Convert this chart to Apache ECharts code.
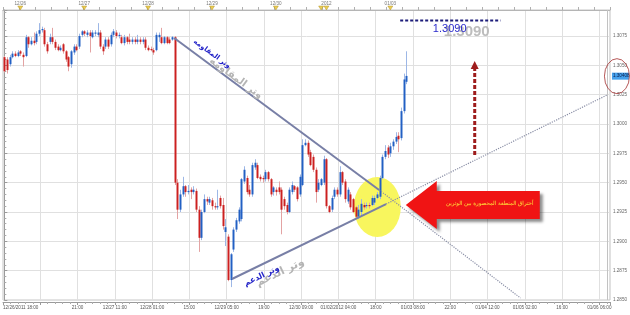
<!DOCTYPE html>
<html><head><meta charset="utf-8">
<script src="https://cdn.jsdelivr.net/npm/echarts@6/dist/echarts.min.js"></script>
<style>html,body{margin:0;padding:0;background:#fff}#c{width:630px;height:315px}</style>
</head><body><div id="c"></div>
<script>
// ---------- DATA (hourly EUR/USD candles) ----------
const opens = [1.3057,1.3055,1.3051,1.3057,1.3060,1.3058,1.3062,1.3059,1.3058,1.3074,
 1.3068,1.3071,1.3070,1.3077,1.3080,1.3080,1.3068,1.3070,1.3074,1.3070,
 1.3066,1.3063,1.3068,1.3062,1.3057,1.3051,1.3061,1.3066,1.3066,1.3076,
 1.3079,1.3076,1.3078,1.3074,1.3077,1.3076,1.3078,1.3066,1.3066,1.3072,
 1.3068,1.3076,1.3078,1.3075,1.3074,1.3069,1.3074,1.3072,1.3070,1.3072,
 1.3070,1.3072,1.3070,1.3072,1.3065,1.3064,1.3063,1.3063,1.3074,1.3074,
 1.3069,1.3074,1.3072,1.3072,1.3074,1.2950,1.2927,1.2940,1.2947,1.2942,
 1.2944,1.2942,1.2943,1.2927,1.2903,1.2925,1.2936,1.2933,1.2935,1.2930,
 1.2929,1.2937,1.2931,1.2908,1.2904,1.2867,1.2893,1.2910,1.2917,1.2919,
 1.2951,1.2954,1.2944,1.2940,1.2963,1.2965,1.2955,1.2954,1.2953,1.2959,
 1.2953,1.2942,1.2944,1.2946,1.2944,1.2936,1.2931,1.2925,1.2942,1.2947,
 1.2946,1.2940,1.2948,1.2982,1.2984,1.2976,1.2972,1.2961,1.2944,1.2948,
 1.2950,1.2970,1.2930,1.2927,1.2938,1.2944,1.2940,1.2959,1.2951,1.2934,
 1.2940,1.2936,1.2929,1.2921,1.2925,1.2931,1.2930,1.2931,1.2931,1.2933,
 1.2937,1.2938,1.2954,1.2972,1.2980,1.2975,1.2981,1.2985,1.2990,1.2988,
 1.3011,1.3036];
const closes = [1.3045,1.3046,1.3057,1.3060,1.3058,1.3061,1.3060,1.3057,1.3074,1.3068,
 1.3071,1.3069,1.3077,1.3080,1.3081,1.3068,1.3062,1.3074,1.3070,1.3065,
 1.3063,1.3065,1.3062,1.3055,1.3049,1.3062,1.3066,1.3063,1.3075,1.3079,
 1.3077,1.3078,1.3075,1.3078,1.3078,1.3078,1.3066,1.3062,1.3072,1.3066,
 1.3076,1.3079,1.3075,1.3076,1.3069,1.3074,1.3070,1.3070,1.3072,1.3070,
 1.3072,1.3070,1.3072,1.3065,1.3063,1.3063,1.3061,1.3076,1.3076,1.3069,
 1.3074,1.3069,1.3069,1.3074,1.2950,1.2927,1.2940,1.2947,1.2942,1.2943,
 1.2942,1.2944,1.2927,1.2903,1.2925,1.2936,1.2934,1.2936,1.2930,1.2929,
 1.2930,1.2930,1.2913,1.2912,1.2867,1.2889,1.2910,1.2918,1.2927,1.2953,
 1.2961,1.2942,1.2940,1.2965,1.2967,1.2954,1.2953,1.2953,1.2959,1.2953,
 1.2940,1.2946,1.2942,1.2942,1.2927,1.2930,1.2925,1.2944,1.2948,1.2944,
 1.2936,1.2955,1.2982,1.2984,1.2974,1.2965,1.2961,1.2942,1.2950,1.2953,
 1.2970,1.2930,1.2925,1.2937,1.2944,1.2940,1.2959,1.2950,1.2936,1.2944,
 1.2929,1.2925,1.2921,1.2927,1.2932,1.2929,1.2931,1.2930,1.2937,1.2937,
 1.2940,1.2954,1.2972,1.2977,1.2974,1.2981,1.2985,1.2989,1.2987,1.3011,
 1.3038,1.3041];
const lows = [1.3044,1.3043,1.3049,1.3056,1.3057,1.3057,1.3058,1.3049,1.3057,1.3065,
 1.3067,1.3067,1.3068,1.3075,1.3078,1.3066,1.3060,1.3068,1.3068,1.3063,
 1.3062,1.3062,1.3060,1.3053,1.3045,1.3048,1.3059,1.3062,1.3064,1.3074,
 1.3075,1.3074,1.3061,1.3073,1.3075,1.3074,1.3064,1.3059,1.3064,1.3064,
 1.3066,1.3074,1.3073,1.3073,1.3068,1.3067,1.3068,1.3068,1.3068,1.3068,
 1.3068,1.3068,1.3068,1.3063,1.3062,1.3062,1.3059,1.3062,1.3070,1.3068,
 1.3068,1.3068,1.3068,1.3071,1.2948,1.2919,1.2925,1.2938,1.2938,1.2940,
 1.2936,1.2940,1.2925,1.2891,1.2901,1.2924,1.2931,1.2931,1.2927,1.2927,
 1.2927,1.2928,1.2910,1.2896,1.2866,1.2861,1.2891,1.2908,1.2915,1.2917,
 1.2949,1.2940,1.2938,1.2938,1.2961,1.2953,1.2951,1.2950,1.2951,1.2951,
 1.2938,1.2939,1.2939,1.2940,1.2906,1.2927,1.2923,1.2924,1.2940,1.2942,
 1.2934,1.2938,1.2947,1.2981,1.2972,1.2964,1.2959,1.2933,1.2942,1.2947,
 1.2948,1.2928,1.2924,1.2925,1.2936,1.2938,1.2938,1.2948,1.2933,1.2932,
 1.2927,1.2924,1.2919,1.2919,1.2921,1.2927,1.2928,1.2928,1.2930,1.2931,
 1.2936,1.2936,1.2953,1.2970,1.2971,1.2972,1.2978,1.2983,1.2976,1.2986,
 1.3009,1.3034];
const highs = [1.3058,1.3057,1.3059,1.3062,1.3062,1.3063,1.3063,1.3061,1.3076,1.3075,
 1.3074,1.3078,1.3079,1.3086,1.3083,1.3082,1.3070,1.3077,1.3082,1.3072,
 1.3068,1.3067,1.3069,1.3063,1.3058,1.3063,1.3068,1.3068,1.3077,1.3080,
 1.3080,1.3080,1.3080,1.3080,1.3080,1.3086,1.3080,1.3068,1.3074,1.3074,
 1.3078,1.3081,1.3080,1.3078,1.3076,1.3076,1.3075,1.3077,1.3074,1.3074,
 1.3076,1.3074,1.3074,1.3074,1.3067,1.3066,1.3065,1.3078,1.3078,1.3082,
 1.3075,1.3075,1.3074,1.3075,1.3075,1.2953,1.2944,1.2955,1.2948,1.2948,
 1.2946,1.2947,1.2945,1.2930,1.2927,1.2940,1.2938,1.2938,1.2937,1.2933,
 1.2944,1.2939,1.2937,1.2919,1.2906,1.2890,1.2912,1.2920,1.2929,1.2954,
 1.2964,1.2956,1.2948,1.2967,1.2970,1.2967,1.2957,1.2956,1.2961,1.2960,
 1.2954,1.2947,1.2946,1.2951,1.2946,1.2938,1.2933,1.2946,1.2951,1.2948,
 1.2947,1.2957,1.2987,1.2987,1.2986,1.2978,1.2974,1.2963,1.2953,1.2954,
 1.2973,1.2971,1.2931,1.2939,1.2946,1.2946,1.2964,1.2960,1.2953,1.2946,
 1.2942,1.2937,1.2930,1.2931,1.2936,1.2933,1.2933,1.2933,1.2939,1.2939,
 1.2942,1.2956,1.2974,1.2982,1.2982,1.2984,1.2987,1.2993,1.2993,1.3014,
 1.3043,1.3062];

// x axis: hourly slots (index), labels every 14 slots
const slotCount = 228;
const bottomTickLabels = ['12/26/2011 18:00','', '21:00','12/27 11:00','12/28 01:00','15:00',
  '12/29 05:00','19:00','12/30 09:00','01/02/2012 04:00','18:00','01/03 08:00','22:00',
  '01/04 12:00','01/05 02:00','16:00','01/06 06:00'];
const topLabelIdx  = [6, 30, 54, 78, 102, 121, 145];
const topLabelText = ['12/26','12/27','12/28','12/29','12/30','2012','01/03'];
const topMarkerIdx = [6, 30, 54, 78, 102, 119, 121, 145];
const yTicks = {min: 1.2850, max: 1.30972, step: 0.0025};

// annotation lines: [slot index, price]
const resistanceSolid  = [[63.8, 1.30733], [140.8, 1.29438]];
const resistanceDotted = [[140.8, 1.29438], [193.9, 1.28517]];
const supportSolid     = [[85.5, 1.28679], [143.4, 1.29318]];
const supportDotted    = [[143.4, 1.29318], [226.4, 1.30247]];
const targetLine       = [[148.7, 1.30882], [186.4, 1.30882]];
const targetText = '1.3090';
const currentPrice = 1.30408;
const breakoutCircle = [140.1, 1.29293];
const breakoutArrowTip = [150.8, 1.29310];
const breakoutText = 'أختراق المنطقة المحصورة بين الوترين';
const upArrow = [176.7, 1.29736, 1.30537];
const resistanceLabel = ['وتر المقاومه', 78.0, 1.30598, 87.0, 1.30390];
const supportLabel = ['وتر الدعم', 96.7, 1.28705, 103.6, 1.28735];
const targetTextPos = [167.3, 1.30810, 173.7, 1.30784];

// ---------- CHART ----------
const chart = echarts.init(document.getElementById('c'));
const FONT = "'Liberation Sans', Arial, sans-serif";
const AR = "'DejaVu Sans', sans-serif";
const candleData = opens.map((o, i) => [i, o, closes[i], lows[i], highs[i]]);
const topCats = Array.from({length: slotCount}, () => '');
topLabelIdx.forEach((ix, k) => { topCats[ix] = topLabelText[k]; });

function renderCandle(params, api) {
  const i = api.value(0), o = api.value(1), c = api.value(2), l = api.value(3), h = api.value(4);
  const pO = api.coord([i, o]), pC = api.coord([i, c]), pL = api.coord([i, l]), pH = api.coord([i, h]);
  const w = api.size([1, 0])[0] * 0.74;
  const up = c >= o;
  const xc = Math.round(pO[0]) + 0.5;
  const top = Math.min(pO[1], pC[1]);
  const bh = Math.max(Math.abs(pO[1] - pC[1]), 1.2);
  return {type: 'group', children: [
    {type: 'line', shape: {x1: xc, y1: pH[1], x2: xc, y2: pL[1]},
     style: {stroke: up ? '#9db7e6' : '#e3a3a3', lineWidth: 1}},
    {type: 'rect', shape: {x: xc - w / 2, y: top, width: w, height: bh},
     style: {fill: up ? '#2260c4' : '#cc2020'}}
  ]};
}

const lineSeries = (data, color, width, type, z) => ({
  type: 'line', data, xAxisIndex: 0, yAxisIndex: 0, symbol: 'none', silent: true,
  clip: false, z: z || 4, lineStyle: {color, width, type}
});

const option = {
  animation: false,
  backgroundColor: '#ffffff',
  textStyle: {fontFamily: FONT},
  grid: {left: 0, right: 20, top: 10, bottom: 15, show: true, borderColor: '#c6c6c6', borderWidth: 1},
  xAxis: [
    {type: 'value', min: -0.5, max: slotCount - 0.5, interval: 14, position: 'bottom', offset: 2,
     axisLine: {show: true, onZero: false, lineStyle: {color: '#9a9a9a'}},
     axisTick: {show: true, length: 3, lineStyle: {color: '#9a9a9a'}},
     minorTick: {show: true, splitNumber: 5, length: 2, lineStyle: {color: '#aaa'}},
     splitLine: {show: true, lineStyle: {color: '#e0e0e0'}},
     axisLabel: {fontSize: 4.6, color: '#555', margin: 3, showMaxLabel: false, alignMinLabel: 'left',
       formatter: v => { const k = (v + 0.5) / 14; return Math.abs(k - Math.round(k)) < 1e-6 ? (bottomTickLabels[Math.round(k)] || '') : ''; }}},
    {type: 'category', data: topCats, position: 'top', boundaryGap: true,
     axisLine: {show: true, lineStyle: {color: '#b5b5b5'}},
     axisTick: {show: true, length: 3, interval: i => i % 6 === 0, lineStyle: {color: '#b0b0b0'}},
     axisLabel: {fontSize: 4.6, color: '#777', margin: 4, interval: i => topCats[i] !== ''},
     splitLine: {show: false}}
  ],
  yAxis: [{type: 'value', position: 'right', min: yTicks.min, max: yTicks.max, interval: yTicks.step,
    axisLine: {show: true, lineStyle: {color: '#9a9a9a'}},
    axisTick: {show: true, length: 3, lineStyle: {color: '#9a9a9a'}},
    minorTick: {show: true, splitNumber: 5, length: 2, lineStyle: {color: '#aaa'}},
    splitLine: {show: true, lineStyle: {color: '#e0e0e0'}},
    axisLabel: {fontSize: 4.6, color: '#666', margin: 3, showMaxLabel: false, formatter: v => v.toFixed(4)}}],
  series: [
    {type: 'custom', renderItem: renderCandle, data: candleData, xAxisIndex: 0, yAxisIndex: 0,
     encode: {x: 0, y: [1, 2, 3, 4]}, z: 3, clip: true, silent: true},
    lineSeries(resistanceSolid, '#787fa6', 2, 'solid'),
    lineSeries(resistanceDotted, '#8a8fa6', 1.2, 'dotted'),
    lineSeries(supportSolid, '#787fa6', 2, 'solid'),
    lineSeries(supportDotted, '#8a8fa6', 1.2, 'dotted'),
    lineSeries(targetLine, '#1d1d7a', 2, [3, 2], 6),
    {type: 'scatter', xAxisIndex: 0, yAxisIndex: 0, clip: false, silent: true, z: 6,
     data: topMarkerIdx.map(i => [i, yTicks.max]),
     symbol: 'triangle', symbolRotate: 180, symbolSize: [5, 4], symbolOffset: [0, -2],
     itemStyle: {color: '#e6c02a', borderColor: '#a8861a', borderWidth: 0.5},
     markLine: {silent: true, symbol: 'none', label: {show: false},
       lineStyle: {color: '#c2c2c2', type: 'solid', width: 1}, data: [{xAxis: 226.3}]}}
  ]
};
chart.setOption(option);

// ---------- ANNOTATIONS anchored through the axes ----------
const P = d => chart.convertToPixel({xAxisIndex: 0, yAxisIndex: 0}, d);
const g = [];
const bc = P(breakoutCircle);
g.push({type: 'circle', x: bc[0], y: bc[1], scaleX: 23.5 / 30, shape: {cx: 0, cy: 0, r: 30},
  style: {fill: '#f8f65e'}, z: 1, silent: true});

const t = P(breakoutArrowTip);
const tx = t[0], ty = t[1];
g.push({type: 'polygon', z: 20, silent: true,
  shape: {points: [[tx, ty], [tx + 31, ty - 24], [tx + 31, ty - 14], [tx + 134, ty - 14],
                   [tx + 134, ty + 14], [tx + 31, ty + 14], [tx + 31, ty + 24]]},
  style: {fill: '#f01414', shadowBlur: 3, shadowColor: 'rgba(0,0,0,0.45)', shadowOffsetX: 3, shadowOffsetY: 3}});
g.push({type: 'text', z: 21, silent: true, x: tx + 84, y: ty - 1,
  style: {text: breakoutText, font: "5.5px " + AR, fill: '#ffe23a', align: 'center', verticalAlign: 'middle'}});

const ub = P([upArrow[0], upArrow[1]]), ut = P([upArrow[0], upArrow[2]]);
g.push({type: 'line', z: 20, silent: true, shape: {x1: ub[0], y1: ub[1], x2: ut[0], y2: ut[1] + 8},
  style: {stroke: '#9e1c1c', lineWidth: 3, lineDash: [4, 2]}});
g.push({type: 'polygon', z: 20, silent: true,
  shape: {points: [[ut[0], ut[1]], [ut[0] - 4, ut[1] + 8], [ut[0] + 4, ut[1] + 8]]},
  style: {fill: '#9e1c1c'}});

const tg = P([targetTextPos[2], targetTextPos[3]]);
g.push({type: 'text', z: 7, silent: true, x: tg[0], y: tg[1],
  style: {text: targetText, font: "bold 15px " + FONT, fill: '#bcbcbc', align: 'center', verticalAlign: 'middle'}});
const tb = P([targetTextPos[0], targetTextPos[1]]);
g.push({type: 'text', z: 8, silent: true, x: tb[0], y: tb[1],
  style: {text: targetText, font: "11px " + FONT, fill: '#2b2bcc', align: 'center', verticalAlign: 'middle'}});

const rl1 = P([resistanceLabel[3], resistanceLabel[4]]);
g.push({type: 'text', z: 7, silent: true, x: rl1[0], y: rl1[1], rotation: -0.63,
  style: {text: resistanceLabel[0], font: "bold 10px " + AR, fill: '#b4b4b4', align: 'center', verticalAlign: 'middle'}});
const rl0 = P([resistanceLabel[1], resistanceLabel[2]]);
g.push({type: 'text', z: 8, silent: true, x: rl0[0], y: rl0[1], rotation: -0.63,
  style: {text: resistanceLabel[0], font: "bold 7px " + AR, fill: '#2424c8', align: 'center', verticalAlign: 'middle'}});
const sl1 = P([supportLabel[3], supportLabel[4]]);
g.push({type: 'text', z: 7, silent: true, x: sl1[0], y: sl1[1], rotation: 0.45,
  style: {text: supportLabel[0], font: "bold 11px " + AR, fill: '#b4b4b4', align: 'center', verticalAlign: 'middle'}});
const sl0 = P([supportLabel[1], supportLabel[2]]);
g.push({type: 'text', z: 8, silent: true, x: sl0[0], y: sl0[1], rotation: 0.45,
  style: {text: supportLabel[0], font: "bold 8px " + AR, fill: '#2424c8', align: 'center', verticalAlign: 'middle'}});

const cp = P([slotCount - 0.5, currentPrice]);
g.push({type: 'rect', z: 9, silent: true, shape: {x: cp[0] + 2, y: cp[1] - 3.5, width: 17, height: 7},
  style: {fill: '#45a0ec'}});
g.push({type: 'text', z: 10, silent: true, x: cp[0] + 3, y: cp[1],
  style: {text: currentPrice.toFixed(5), font: "4.6px " + FONT, fill: '#0b1d4a', verticalAlign: 'middle'}});
g.push({type: 'circle', z: 11, silent: true, x: cp[0] + 7, y: cp[1], scaleX: 12.5 / 17.5,
  shape: {cx: 0, cy: 0, r: 17.5}, style: {fill: 'none', stroke: '#a83a3a', lineWidth: 1, strokeNoScale: true}});

chart.setOption({graphic: {elements: g}});
</script>
</body></html>
